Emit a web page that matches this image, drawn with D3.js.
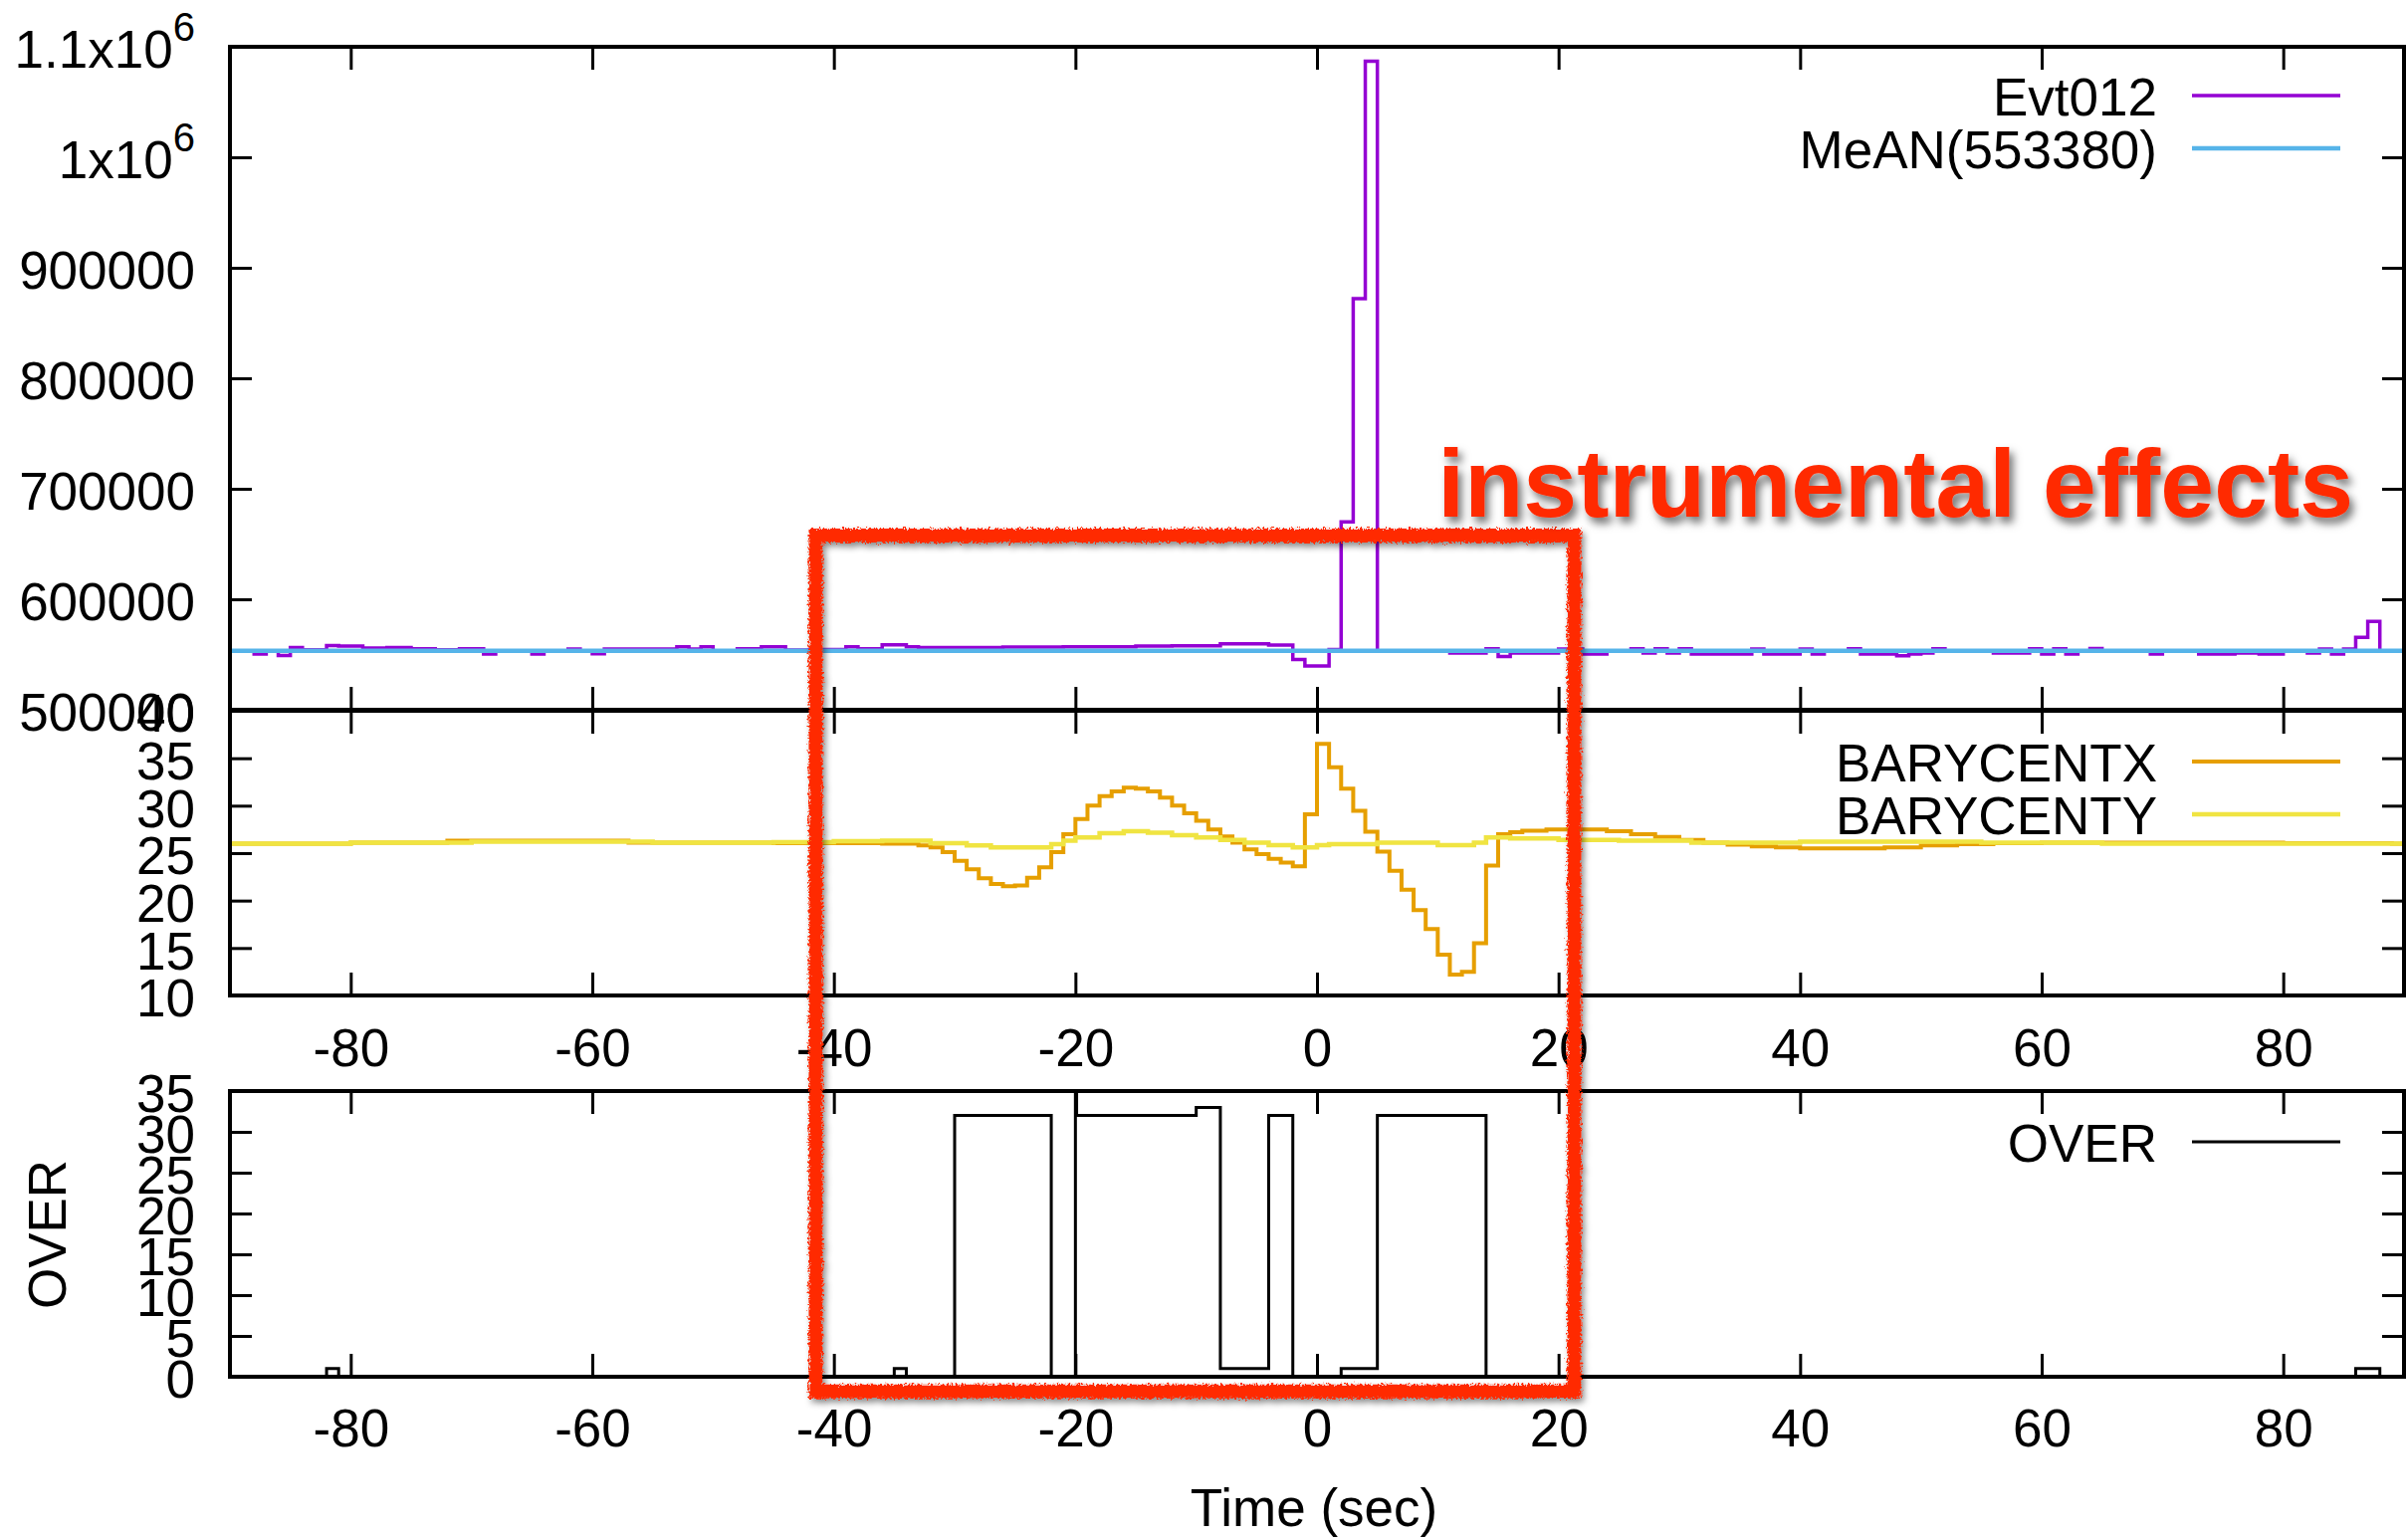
<!DOCTYPE html>
<html><head><meta charset="utf-8">
<script src="https://cdn.jsdelivr.net/npm/d3@7"></script>
<style>
html,body{margin:0;padding:0;background:#fff;overflow:hidden}
svg text{font-family:"Liberation Sans",Arial,Helvetica,sans-serif;fill:#000}
</style>
</head><body>
<svg id="c" width="2417" height="1547" xmlns="http://www.w3.org/2000/svg"></svg>
<script>
// ---------------- DATA ----------------
const timeDomain = [-90, 90];
const timeTicks = [-80, -60, -40, -20, 0, 20, 40, 60, 80];
const evtDomain = [500000, 1100000];
const evtTicks = [500000, 600000, 700000, 800000, 900000, 1000000, 1100000];
const baryDomain = [10, 40];
const baryTicks = [10, 15, 20, 25, 30, 35, 40];
const overDomain = [0, 35];
const overTicks = [0, 5, 10, 15, 20, 25, 30, 35];
const meanValue = 553380;
const seriesNames = ["Evt012", "MeAN(553380)", "BARYCENTX", "BARYCENTY", "OVER"];
const xLabel = "Time (sec)";
const overLabel = "OVER";
const noteText = "instrumental effects";

// step data: [bin start time (s), value]; last entry closes the range
const evt012 = [
  [-90,553400],[-88,550400],[-87,553400],[-86,549200],[-85,556400],[-84,554300],
  [-82,558200],[-81,557600],[-79,555800],[-77,556400],[-75,555200],[-73,554300],
  [-71,555200],[-69,550400],[-68,553400],[-65,550400],[-64,553400],[-62,554900],
  [-61,553400],[-60,550700],[-59,554900],[-53,557000],[-52,554900],[-51,557000],
  [-50,553400],[-48,555200],[-46,557000],[-44,554000],[-42,554600],[-39,557000],
  [-38,555200],[-36,558800],[-34,557000],[-33,556400],[-26,556700],[-21,557000],
  [-15,557600],[-12,557900],[-8,559700],[-4,558500],[-2,545500],[-1,539600],
  [1,554500],[2,670000],[3,872000],[4,1087000],[5,553400],[11,551300],[14,555200],
  [15,548300],[16,551300],[20,554900],[22,550400],[24,553400],[26,555200],[27,551300],
  [28,555200],[29,551300],[30,555200],[31,550400],[36,554900],[37,550400],[40,554900],
  [41,550400],[42,553400],[44,555200],[45,550400],[48,548900],[49,550400],[50,551300],
  [51,555200],[52,553400],[56,551300],[59,555200],[60,550400],[61,555200],[62,550400],
  [63,553400],[64,555500],[65,553400],[69,550400],[70,553400],[73,550400],[76,551300],
  [78,550400],[80,553400],[82,551300],[83,554900],[84,550400],[85,554900],[86,565500],
  [87,580000],[88,553400],[90,553400]
];
const barycentX = [
  [-90,26.0],[-80,26.1],[-72,26.3],[-57,26.1],[-45,26.05],[-36,26.0],[-33,25.8],
  [-32,25.6],[-31,25.1],[-30,24.2],[-29,23.3],[-28,22.35],[-27,21.75],[-26,21.5],
  [-25,21.6],[-24,22.4],[-23,23.5],[-22,25.1],[-21,27.0],[-20,28.6],[-19,30.0],
  [-18,31.0],[-17,31.5],[-16,31.9],[-15,31.8],[-14,31.5],[-13,30.85],[-12,30.0],
  [-11,29.2],[-10,28.4],[-9,27.5],[-8,26.75],[-7,26.1],[-6,25.4],[-5,24.9],[-4,24.4],
  [-3,24.0],[-2,23.6],[-1,29.1],[0,36.5],[1,34.05],[2,31.8],[3,29.45],[4,27.25],
  [5,25.15],[6,23.15],[7,21.15],[8,19.0],[9,17.0],[10,14.3],[11,12.2],[12,12.5],
  [13,15.5],[14,23.7],[15,27.0],[16,27.2],[17,27.35],[19,27.5],[22,27.5],[24,27.3],
  [26,27.0],[28,26.7],[30,26.4],[32,26.1],[34,25.9],[36,25.7],[38,25.6],[40,25.5],
  [44,25.5],[47,25.6],[50,25.8],[53,25.95],[56,26.05],[60,26.1],[70,26.1],[80,26.05],
  [89,26.0],[90,26.0]
];
const barycentY = [
  [-90,26.0],[-80,26.1],[-70,26.2],[-55,26.1],[-45,26.15],[-40,26.25],[-36,26.3],
  [-32,26.05],[-29,25.8],[-27,25.6],[-22,25.95],[-21,26.3],[-20,26.65],[-18,27.1],
  [-16,27.3],[-14,27.15],[-12,26.9],[-10,26.65],[-8,26.4],[-6,26.1],[-4,25.85],
  [-2,25.6],[0,25.85],[1,25.95],[5,26.1],[10,25.85],[13,26.1],[14,26.65],[16,26.55],
  [20,26.4],[25,26.3],[31,26.1],[40,26.2],[55,26.1],[65,26.0],[90,26.0]
];
const over = [
  [-90,0],[-82,1],[-81,0],[-35,1],[-34,0],[-30,32],[-22,0],[-20,40],[-19.9,32],
  [-10,33],[-8,1],[-4,32],[-2,0],[2,1],[5,32],[14,0],[86,1],[88,0],[90,0]
];
// annotation box in data coordinates: time range, top (Evt012 scale), bottom (OVER scale)
const noteBoxTime = [-41.5, 21.3];
const noteBoxTop = 657700;
const noteBoxBottom = -1.8;
const noteTextTime = [10, 85.8];
const noteTextBase = 674800;

// ---------------- LAYOUT ----------------
const svg = d3.select("#c");
const FS = 53;
const x = d3.scaleLinear(timeDomain, [231, 2415]);
const yTop = d3.scaleLinear(evtDomain, [713, 47]);
const yMid = d3.scaleLinear(baryDomain, [1000, 714]);
const yBot = d3.scaleLinear(overDomain, [1383, 1096]);
const colors = {evt:"#9400d3", mean:"#56b4e9", bx:"#e69f00", by:"#f0e442", over:"#000000"};

const defs = svg.append("defs");
function clip(id, y) {
  defs.append("clipPath").attr("id", id).append("rect")
    .attr("x", x(timeDomain[0])).attr("y", y.range()[1])
    .attr("width", x(timeDomain[1]) - x(timeDomain[0]))
    .attr("height", y.range()[0] - y.range()[1]);
}
clip("cTop", yTop); clip("cMid", yMid); clip("cBot", yBot);

const f1 = defs.append("filter").attr("id","rough").attr("x","-5%").attr("y","-5%").attr("width","110%").attr("height","110%");
f1.append("feTurbulence").attr("type","fractalNoise").attr("baseFrequency","0.45").attr("numOctaves",2).attr("seed",4).attr("result","n");
f1.append("feDisplacementMap").attr("in","SourceGraphic").attr("in2","n").attr("scale",8).attr("xChannelSelector","R").attr("yChannelSelector","G").attr("result","d");
f1.append("feDropShadow").attr("in","d").attr("dx",3).attr("dy",4).attr("stdDeviation",3).attr("flood-color","#000").attr("flood-opacity",0.45);
const f2 = defs.append("filter").attr("id","shadow").attr("x","-5%").attr("y","-20%").attr("width","110%").attr("height","150%");
f2.append("feDropShadow").attr("dx",4).attr("dy",6).attr("stdDeviation",4).attr("flood-color","#000").attr("flood-opacity",0.55);

function styleAxis(g, labels) {
  g.attr("font-size", null).attr("font-family", null);
  g.select(".domain").remove();
  g.selectAll(".tick line").attr("stroke", "#000").attr("stroke-width", 3);
  if (labels) g.selectAll(".tick text").attr("font-size", FS); else g.selectAll(".tick text").remove();
}
function yAxes(y, ticks, fmt) {
  const gl = svg.append("g").attr("transform", `translate(${x(timeDomain[0])},0)`)
    .call(d3.axisLeft(y).tickValues(ticks).tickSizeInner(-22).tickSizeOuter(0).tickPadding(35).tickFormat(fmt));
  styleAxis(gl, true);
  gl.selectAll(".tick text").attr("dy", "0.39em");
  const gr = svg.append("g").attr("transform", `translate(${x(timeDomain[1])},0)`)
    .call(d3.axisRight(y).tickValues(ticks).tickSizeInner(-22).tickSizeOuter(0).tickFormat(""));
  styleAxis(gr, false);
  return gl;
}
function xAxes(y, labels, pad) {
  const gt = svg.append("g").attr("transform", `translate(0,${y.range()[1]})`)
    .call(d3.axisTop(x).tickValues(timeTicks).tickSizeInner(-23).tickSizeOuter(0).tickFormat(""));
  styleAxis(gt, false);
  const gb = svg.append("g").attr("transform", `translate(0,${y.range()[0]})`)
    .call(d3.axisBottom(x).tickValues(timeTicks).tickSizeInner(-23).tickSizeOuter(0).tickPadding(pad).tickFormat(d => String(d)));
  styleAxis(gb, labels);
}

const stepLine = (y) => d3.line().x(d => x(d[0])).y(d => y(d[1])).curve(d3.curveStepAfter);

// ---- top panel ----
svg.append("path").datum(evt012).attr("clip-path","url(#cTop)")
  .attr("d", stepLine(yTop)).attr("fill","none").attr("stroke",colors.evt).attr("stroke-width",3.5);
svg.append("path").datum([[timeDomain[0], meanValue],[timeDomain[1], meanValue]]).attr("clip-path","url(#cTop)")
  .attr("d", d3.line().x(d => x(d[0])).y(d => yTop(d[1]))).attr("fill","none").attr("stroke",colors.mean).attr("stroke-width",4.5);

// ---- middle panel ----
svg.append("path").datum(barycentX).attr("clip-path","url(#cMid)")
  .attr("d", stepLine(yMid)).attr("fill","none").attr("stroke",colors.bx).attr("stroke-width",4);
svg.append("path").datum(barycentY).attr("clip-path","url(#cMid)")
  .attr("d", stepLine(yMid)).attr("fill","none").attr("stroke",colors.by).attr("stroke-width",4.5);

// ---- bottom panel ----
svg.append("path").datum(over).attr("clip-path","url(#cBot)")
  .attr("d", stepLine(yBot)).attr("fill","none").attr("stroke",colors.over).attr("stroke-width",3);

// ---- axes ----
const gTop = yAxes(yTop, evtTicks, d => d >= 1e6 ? "" : String(d));
gTop.selectAll(".tick text").each(function(d) {
  if (d >= 1e6) {
    const t = d3.select(this);
    t.append("tspan").text(String(d / 1e6) + "x10");
    t.append("tspan").attr("font-size", 40).attr("dy", -27).text("6");
  }
});
yAxes(yMid, baryTicks, d => String(d));
yAxes(yBot, overTicks, d => String(d));
xAxes(yTop, false, 0);
xAxes(yMid, true, 33);
xAxes(yBot, true, 32);

// borders
[yTop, yMid, yBot].forEach(y => {
  svg.append("rect").attr("x", x(timeDomain[0])).attr("y", y.range()[1])
    .attr("width", x(timeDomain[1]) - x(timeDomain[0])).attr("height", y.range()[0] - y.range()[1])
    .attr("fill","none").attr("stroke","#000").attr("stroke-width",4);
});

// legends
function legend(items, y0) {
  items.forEach((it, i) => {
    const yy = y0 + i * 53;
    svg.append("text").attr("x", 2167).attr("y", yy).attr("dy","0.37em").attr("text-anchor","end")
      .attr("font-size", FS).text(it.name);
    svg.append("line").attr("x1", 2202).attr("x2", 2351).attr("y1", yy).attr("y2", yy)
      .attr("stroke", it.color).attr("stroke-width", it.w);
  });
}
legend([{name:seriesNames[0], color:colors.evt, w:3.5},{name:seriesNames[1], color:colors.mean, w:4.5}], 96);
legend([{name:seriesNames[2], color:colors.bx, w:4},{name:seriesNames[3], color:colors.by, w:4.5}], 765);
legend([{name:seriesNames[4], color:colors.over, w:3}], 1147);

// axis titles
svg.append("text").attr("x", 1320).attr("y", 1533).attr("text-anchor","middle").attr("font-size", FS).text(xLabel);
svg.append("text").attr("transform","translate(66,1240) rotate(-90)").attr("text-anchor","middle").attr("font-size", FS).text(overLabel);

// annotation
svg.append("rect")
  .attr("x", x(noteBoxTime[0])).attr("y", yTop(noteBoxTop))
  .attr("width", x(noteBoxTime[1]) - x(noteBoxTime[0])).attr("height", yBot(noteBoxBottom) - yTop(noteBoxTop))
  .attr("fill","none").attr("stroke","#ff2a05").attr("stroke-width",14).attr("filter","url(#rough)");
svg.append("text").attr("x", x(noteTextTime[0])).attr("y", yTop(noteTextBase))
  .attr("textLength", x(noteTextTime[1]) - x(noteTextTime[0])).attr("lengthAdjust","spacingAndGlyphs")
  .attr("font-size", 97).attr("font-weight","bold").style("fill","#ff2a05").attr("filter","url(#shadow)")
  .text(noteText);
</script>
</body></html>
